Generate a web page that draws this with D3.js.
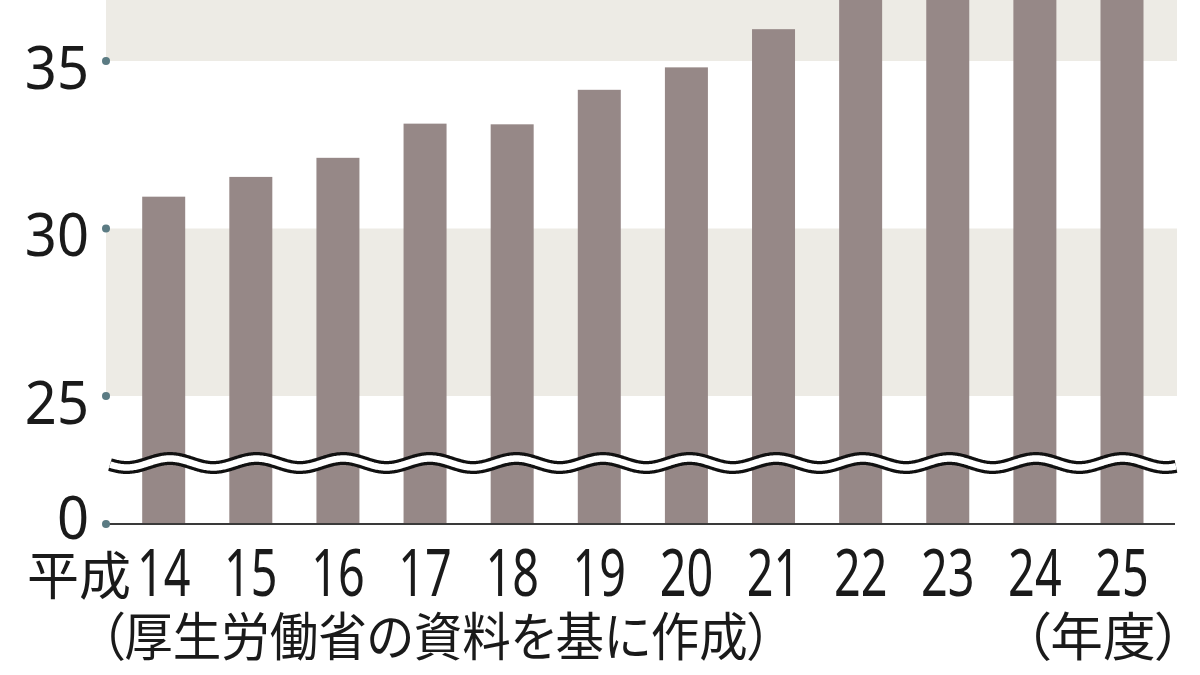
<!DOCTYPE html>
<html><head><meta charset="utf-8">
<script src="https://cdn.jsdelivr.net/npm/d3@7"></script>
<style>
html,body{margin:0;padding:0;background:#fff;}
svg{display:block;}
text{font-family:"Noto Sans CJK JP","Noto Sans",sans-serif;fill:#1a1a1a;font-feature-settings:"palt";}
text.num{font-family:"Noto Sans","Open Sans",sans-serif;}
</style></head>
<body>
<svg id="chart" width="1200" height="675"></svg>
<script>
// National medical expenditure (兆円), fiscal years Heisei 14–25
const years = ["14","15","16","17","18","19","20","21","22","23","24","25"];
const values = [30.95, 31.54, 32.11, 33.13, 33.11, 34.14, 34.81, 35.95, 37.42, 38.59, 39.21, 40.06];
const yTicks = [0, 25, 30, 35];
const bands = [[25, 30], [35, 45]];
const sourceText = "（厚生労働省の資料を基に作成）";
const unitText = "（年度）";
const eraPrefix = "平成";

const svg = d3.select("#chart");
const plotL = 106, plotR = 1177, baseY = 524;

// broken scale: 0..25 compressed, 25..35 linear
const y = d3.scaleLinear().domain([0, 25, 35]).range([baseY, 396, 61]);
const x = d3.scalePoint().domain(years).range([163.7, 1122]);
const barW = 43;

// background bands
svg.append("g").selectAll("rect").data(bands).join("rect")
  .attr("x", plotL).attr("width", plotR - plotL)
  .attr("y", d => Math.max(0, y(d[1])))
  .attr("height", d => y(d[0]) - Math.max(0, y(d[1])))
  .attr("fill", "#edebe5");

// bars
svg.append("g").selectAll("rect").data(values).join("rect")
  .attr("x", (d, i) => x(years[i]) - barW / 2)
  .attr("width", barW)
  .attr("y", d => Math.max(-5, y(d)))
  .attr("height", d => baseY - Math.max(-5, y(d)))
  .attr("fill", "#968887");

// wavy break
const waveY = 463, amp = 4.5, period = 86.6, phase = 170;
const pts = d3.range(110, 1177, 1).map(px => [px, waveY - amp * Math.cos(2 * Math.PI * (px - phase) / period)]);
const line = d3.line().curve(d3.curveBasis);
svg.append("path").attr("d", line(pts)).attr("fill", "none").attr("stroke", "#111").attr("stroke-width", 13);
svg.append("path").attr("d", line(pts)).attr("fill", "none").attr("stroke", "#fff").attr("stroke-width", 6.5);

// baseline
svg.append("line").attr("x1", plotL).attr("x2", 1175).attr("y1", baseY).attr("y2", baseY)
  .attr("stroke", "#3a3a3a").attr("stroke-width", 2.2);

// y ticks: dots + labels
const yAxis = svg.append("g");
yAxis.selectAll("circle").data(yTicks).join("circle")
  .attr("cx", plotL).attr("cy", d => y(d)).attr("r", 4).attr("fill", "#5b7b83");
yAxis.selectAll("text").data(yTicks).join("text")
  .attr("class", "num")
  .attr("transform", d => `translate(89,${y(d) + (d === 0 ? -9 : 4)}) scale(0.92,1)`)
  .attr("text-anchor", "end").attr("dominant-baseline", "central")
  .attr("font-size", 61)
  .text(d => d);

// x labels
const xAxis = svg.append("g");
xAxis.selectAll("text").data(years).join("text")
  .attr("class", "num")
  .attr("transform", d => `translate(${x(d)},571) scale(0.72,1)`)
  .attr("text-anchor", "middle").attr("dominant-baseline", "central")
  .attr("font-size", 65)
  .text(d => d);
svg.append("text").attr("x", 131).attr("y", 572)
  .attr("text-anchor", "end").attr("dominant-baseline", "central")
  .attr("font-size", 52).text(eraPrefix);

// source and unit
svg.append("text").attr("x", 100).attr("y", 633).attr("dominant-baseline", "central")
  .attr("font-size", 52).attr("textLength", 672).attr("lengthAdjust", "spacingAndGlyphs").text(sourceText);
svg.append("text").attr("x", 1024).attr("y", 633).attr("dominant-baseline", "central")
  .attr("font-size", 52).attr("textLength", 158).attr("lengthAdjust", "spacingAndGlyphs").text(unitText);
</script>
</body></html>
